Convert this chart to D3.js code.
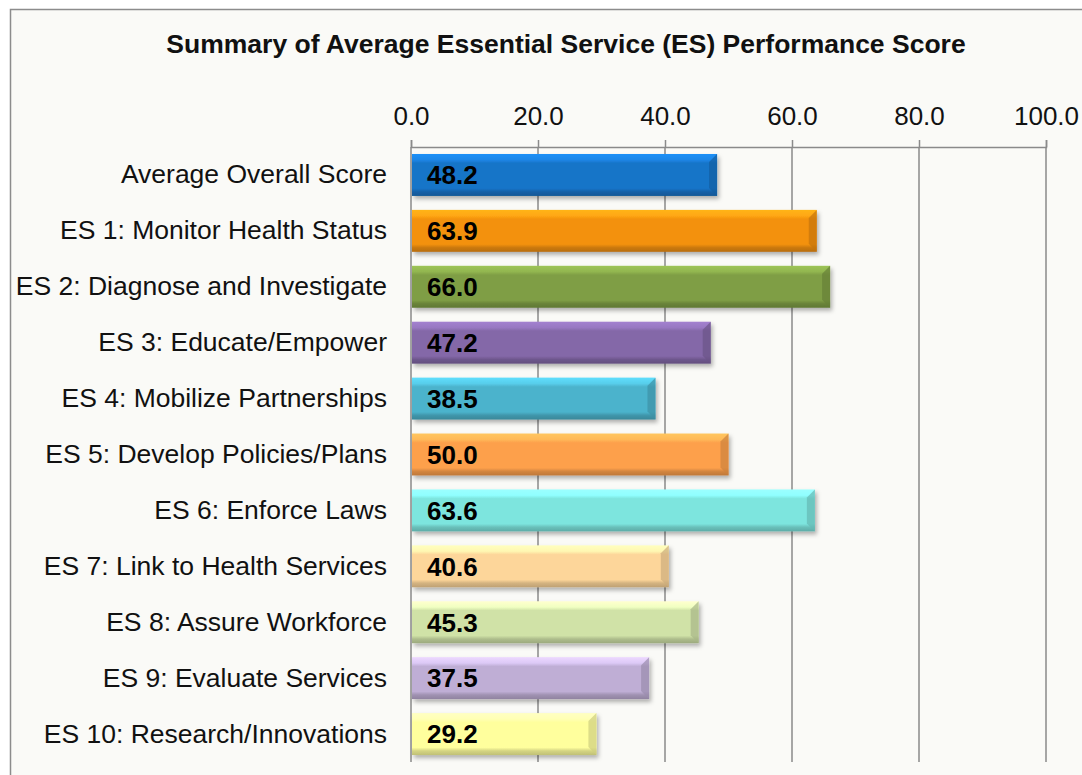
<!DOCTYPE html>
<html>
<head>
<meta charset="utf-8">
<script src="https://cdn.jsdelivr.net/npm/d3@7"></script>
<style>
  body{margin:0;background:#fff;}
  text{font-family:"Liberation Sans",Arial,sans-serif;}
</style>
</head>
<body>
<div id="chart-area"></div>
<script>
// data
const categories=['Average Overall Score','ES 1: Monitor Health Status','ES 2: Diagnose and Investigate',
  'ES 3: Educate/Empower','ES 4: Mobilize Partnerships','ES 5: Develop Policies/Plans','ES 6: Enforce Laws',
  'ES 7: Link to Health Services','ES 8: Assure Workforce','ES 9: Evaluate Services','ES 10: Research/Innovations'];
const scores=[48.2,63.9,66.0,47.2,38.5,50.0,63.6,40.6,45.3,37.5,29.2];
const barColors=['#1874c8','#f39110','#7f9e45','#8468a8','#4cb3cc','#fda04c','#7de5de','#fdd69a','#d0e2a7','#bfaed5','#ffff9d'];
const tickValues=[0,20,40,60,80,100];

const W=1082,H=775;
const margin={left:411,right:36,top:147,bottom:13};
const width=W-margin.left-margin.right;
const height=H-margin.top-margin.bottom;

const data=categories.map((c,i)=>({cat:c,val:scores[i],color:barColors[i]}));

const svg=d3.select('#chart-area').append('svg')
  .attr('width',W).attr('height',H);

const defs=svg.append('defs');

// soft shadow under the bars
const f=defs.append('filter').attr('id','shadow')
  .attr('x','-5%').attr('y','-20%').attr('width','115%').attr('height','160%');
f.append('feDropShadow').attr('dx',2).attr('dy',3).attr('stdDeviation',2)
  .attr('flood-color','#000').attr('flood-opacity',0.3);

// one vertical gradient per bar for the bevel look
data.forEach((d,i)=>{
  const c=d3.color(d.color);
  const gr=defs.append('linearGradient').attr('id','grad'+i)
    .attr('x1',0).attr('y1',0).attr('x2',0).attr('y2',1);
  gr.append('stop').attr('offset','0%').attr('stop-color',c.brighter(0.6));
  gr.append('stop').attr('offset','14%').attr('stop-color',c.brighter(0.4));
  gr.append('stop').attr('offset','22%').attr('stop-color',c);
  gr.append('stop').attr('offset','82%').attr('stop-color',c);
  gr.append('stop').attr('offset','90%').attr('stop-color',c.darker(0.5));
  gr.append('stop').attr('offset','100%').attr('stop-color',c.darker(0.8));
});

// chart frame
svg.append('rect')
  .attr('x',10.5).attr('y',9.5)
  .attr('width',1100).attr('height',800)
  .attr('fill','#fafaf7')
  .attr('stroke','#8c8c8c').attr('stroke-width',1.5);

svg.append('text')
  .attr('x',566).attr('y',53)
  .attr('text-anchor','middle')
  .attr('font-size','26.5px').attr('font-weight',700)
  .attr('fill','#111')
  .text('Summary of Average Essential Service (ES) Performance Score');

const g=svg.append('g')
  .attr('transform','translate('+margin.left+','+margin.top+')');

const x=d3.scaleLinear().domain([0,100]).range([0,width]);
const y=d3.scaleBand().domain(categories).range([0,height])
  .paddingInner(0.25).paddingOuter(0.125);

// gridlines
g.selectAll('.grid').data(tickValues).enter().append('line')
  .attr('class','grid')
  .attr('x1',d=>x(d)).attr('x2',d=>x(d))
  .attr('y1',0).attr('y2',height)
  .attr('stroke','#8a8a8a').attr('stroke-width',1.5);

// top axis
const xAxisCall=d3.axisTop(x).tickValues(tickValues)
  .tickFormat(d3.format('.1f')).tickSize(7).tickPadding(15);
const xAxisGroup=g.append('g').attr('class','x axis').call(xAxisCall);
xAxisGroup.select('.domain').attr('stroke','#8a8a8a').attr('stroke-width',1.5);
xAxisGroup.selectAll('.tick line').attr('stroke','#8a8a8a').attr('stroke-width',1.5);
xAxisGroup.selectAll('.tick text')
  .attr('font-size','26px').attr('fill','#111')
  .attr('font-family','"Liberation Sans",Arial,sans-serif');

// category labels
const yAxisCall=d3.axisLeft(y).tickSize(0).tickPadding(24);
const yAxisGroup=g.append('g').attr('class','y axis').call(yAxisCall);
yAxisGroup.select('.domain').remove();
yAxisGroup.selectAll('.tick text')
  .attr('font-size','26.5px').attr('fill','#111')
  .attr('font-family','"Liberation Sans",Arial,sans-serif');

// bars
const bars=g.selectAll('.bar').data(data).enter().append('g').attr('class','bar');

bars.append('rect')
  .attr('x',x(0)+1)
  .attr('y',d=>y(d.cat))
  .attr('width',d=>x(d.val)-x(0)-1)
  .attr('height',y.bandwidth())
  .attr('fill',(d,i)=>'url(#grad'+i+')')
  .attr('filter','url(#shadow)');

// darker bevel on the right end
const bev=8;
bars.append('path')
  .attr('d',d=>{
    const x1=x(d.val),y0=y(d.cat),h=y.bandwidth();
    return 'M'+(x1-bev)+','+(y0+bev)+'L'+x1+','+y0+'L'+x1+','+(y0+h)+'L'+(x1-bev)+','+(y0+h-bev)+'Z';
  })
  .attr('fill',d=>d3.color(d.color).darker(0.6))
  .attr('opacity',0.7);

// value labels
bars.append('text')
  .attr('x',x(0)+16)
  .attr('y',d=>y(d.cat)+y.bandwidth()/2)
  .attr('dy','0.36em')
  .attr('font-size','26px').attr('font-weight',700)
  .attr('fill','#000')
  .text(d=>d.val.toFixed(1));
</script>
</body>
</html>
